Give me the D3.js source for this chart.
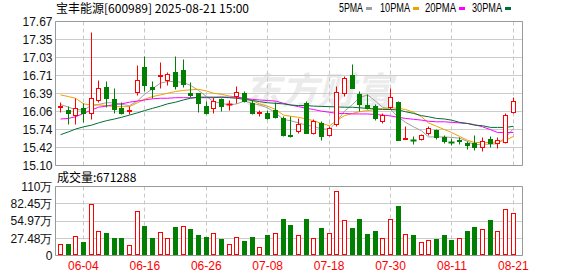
<!DOCTYPE html>
<html>
<head>
<meta charset="utf-8">
<script src="https://cdn.jsdelivr.net/npm/d3@7"></script>
<style>
  body { margin: 0; background: #fff; }
  svg { display: block; }
  text { font-family: "Liberation Sans", Arial, sans-serif; }
  .cjk { font-family: "Noto Sans CJK SC", sans-serif; }
</style>
</head>
<body>
<div id="chart"></div>
<script>
// trading days shown (MM-DD)
const dates = ["05-29","05-30","06-03","06-04","06-05","06-06","06-09","06-10","06-11","06-12",
  "06-13","06-16","06-17","06-18","06-19","06-20","06-23","06-24","06-25","06-26",
  "06-27","06-30","07-01","07-02","07-03","07-04","07-07","07-08","07-09","07-10",
  "07-11","07-14","07-15","07-16","07-17","07-18","07-21","07-22","07-23","07-24",
  "07-25","07-28","07-29","07-30","07-31","08-01","08-04","08-05","08-06","08-07",
  "08-08","08-11","08-12","08-13","08-14","08-15","08-18","08-19","08-20","08-21"];

const opens = [16.13,16.08,16.00,16.12,16.02,16.26,16.49,16.27,16.11,16.07,
  16.40,16.85,16.49,16.69,16.62,16.76,16.79,16.38,16.38,16.15,
  16.115,16.27,16.18,16.33,16.39,16.20,16.03,16.03,16.09,15.94,
  15.64,15.70,16.20,15.68,15.85,15.64,15.83,16.39,16.70,16.36,
  16.17,16.145,15.89,16.13,16.23,15.57,15.555,15.57,15.67,15.73,
  15.60,15.515,15.54,15.50,15.495,15.42,15.565,15.49,15.51,16.04];
const highs = [16.23,16.145,16.29,16.20,17.47,16.61,16.60,16.47,16.22,16.15,
  16.88,17.04,16.60,16.94,16.76,17.04,16.99,16.59,16.39,16.245,
  16.32,16.30,16.26,16.51,16.42,16.26,16.08,16.08,16.23,15.98,
  15.98,15.94,16.245,15.92,15.89,15.80,16.505,16.68,16.895,16.42,
  16.36,16.19,16.02,16.47,16.24,15.80,15.625,15.65,15.80,15.74,
  15.63,15.58,15.60,15.535,15.64,15.595,15.61,15.595,16.02,16.315];
const lows = [16.04,15.84,15.83,15.86,15.92,16.23,16.13,16.02,16.01,16.01,
  16.35,16.42,16.30,16.47,16.52,16.45,16.50,16.32,16.04,16.01,
  16.02,16.07,16.08,16.20,16.22,16.01,15.98,15.92,15.93,15.62,
  15.60,15.67,15.67,15.655,15.55,15.61,15.80,16.33,16.47,16.06,
  16.10,15.91,15.85,16.10,15.54,15.56,15.47,15.55,15.63,15.56,
  15.49,15.45,15.48,15.39,15.37,15.35,15.42,15.40,15.49,16.03];
const closes = [16.16,16.02,16.11,16.02,16.29,16.47,16.29,16.10,16.02,16.09,
  16.62,16.53,16.46,16.70,16.72,16.51,16.55,16.35,16.20,16.02,
  16.25,16.16,16.19,16.40,16.245,16.03,16.04,15.94,15.95,15.63,
  15.62,15.84,15.68,15.89,15.625,15.76,16.41,16.66,16.48,16.19,
  16.11,15.93,15.99,16.305,15.55,15.58,15.545,15.63,15.76,15.60,
  15.525,15.51,15.53,15.46,15.42,15.535,15.49,15.55,15.99,16.25];

// volume in 万
const volumes = [17.0,17.5,29.8,20.7,81.3,37.7,35.1,27.1,27.1,15.4,
  69.6,46.2,27.1,36.7,26.6,44.6,46.2,42.0,31.9,28.7,
  35.1,25.5,17.5,28.2,22.3,28.7,12.2,31.9,35.1,57.4,
  47.8,31.9,57.4,26.6,43.0,35.1,101.5,55.8,43.0,57.4,
  33.5,38.3,26.6,56.9,78.1,32.9,31.4,20.2,24.4,25.0,
  31.4,23.9,26.6,38.3,44.6,41.0,55.8,38.3,72.8,67.1288];

const ma5 = [16.19,16.14,16.10,16.09,16.17,16.19,16.22,16.22,16.19,16.17,
  16.25,16.37,16.47,16.57,16.60,16.60,16.58,16.53,16.44,16.33,
  16.24,16.21,16.18,16.20,16.25,16.21,16.18,16.13,16.04,15.92,
  15.90,15.86,15.82,15.80,15.75,15.75,15.88,16.07,16.19,16.31,
  16.36,16.25,16.14,16.10,15.96,15.87,15.79,15.72,15.61,15.61,
  15.61,15.60,15.59,15.53,15.47,15.48,15.48,15.49,15.60,15.76];
const ma10 = [16.36,16.33,16.30,16.20,16.18,16.18,16.17,16.15,16.15,16.15,
  16.22,16.28,16.33,16.36,16.39,16.42,16.44,16.45,16.46,16.43,
  16.39,16.37,16.34,16.32,16.30,16.26,16.20,16.16,16.10,16.00,
  15.98,15.96,15.93,15.90,15.85,15.81,15.90,15.99,16.03,16.06,
  16.08,16.10,16.12,16.13,16.12,16.10,16.05,15.97,15.86,15.80,
  15.74,15.69,15.62,15.55,15.51,15.51,15.51,15.52,15.55,15.62];
const ma20 = [15.93,15.94,15.97,16.03,16.09,16.14,16.16,16.19,16.20,16.23,
  16.25,16.27,16.29,16.30,16.30,16.31,16.31,16.31,16.31,16.31,
  16.31,16.32,16.32,16.32,16.30,16.28,16.27,16.26,16.25,16.21,
  16.18,16.15,16.12,16.10,16.07,16.05,16.03,16.03,16.02,16.02,
  16.02,16.01,16.00,15.985,15.96,15.94,15.925,15.91,15.89,15.88,
  15.88,15.87,15.86,15.85,15.83,15.79,15.74,15.69,15.69,15.69];
const ma30 = [15.65,15.70,15.75,15.79,15.82,15.86,15.90,15.93,15.96,16.00,
  16.04,16.08,16.12,16.16,16.20,16.23,16.27,16.30,16.32,16.32,
  16.32,16.32,16.31,16.30,16.28,16.26,16.24,16.22,16.21,16.20,
  16.18,16.17,16.17,16.16,16.155,16.15,16.145,16.14,16.14,16.13,
  16.12,16.11,16.10,16.10,16.09,16.06,16.03,15.99,15.97,15.94,
  15.93,15.91,15.87,15.85,15.82,15.81,15.78,15.78,15.78,15.80];

const priceTicks = [17.67,17.35,17.03,16.71,16.39,16.06,15.74,15.42,15.10];
const volTicks = [0,27.48,54.97,82.45,110];
const volTickLabels = ["0","27.48万","54.97万","82.45万","110万"];
const dateTicks = ["06-04","06-16","06-26","07-08","07-18","07-30","08-11","08-21"];

const maNames = ["5PMA","10PMA","20PMA","30PMA"];
const maColors = ["#a0a0a0","#f0a000","#ff00ff","#006f35"];

const title = "宝丰能源[600989] 2025-08-21 15:00";
const volTitle = "成交量:671288";

const W = 578, H = 276;
const left = 55.5, right = 522.5;
const pTop = 21.5, pBot = 165.5;
const vTop = 186.5, vBot = 255.5;
const RED = "#ff0000", GREEN = "#007f00";

const svg = d3.select("#chart").append("svg")
  .attr("width", W).attr("height", H);

const x = d3.scaleBand().domain(dates).range([56.5, 56.5 + dates.length * 7.678]);
const cx = d => Math.round(x(d) + x.bandwidth() / 2 - 0.5) + 0.5;
const y = d3.scaleLinear().domain([15.10, 17.67]).range([pBot, pTop]);
const yv = d3.scaleLinear().domain([0, 110]).range([vBot, vTop]);
const snap = v => Math.round(v - 0.5) + 0.5;

const rows = dates.map((d, i) => ({
  date: d, open: opens[i], high: highs[i], low: lows[i], close: closes[i],
  vol: volumes[i], up: i === 0 ? closes[i] >= opens[i] : closes[i] >= closes[i - 1]
}));

// watermark
svg.append("text").attr("class", "cjk")
  .attr("x", 244).attr("y", 104)
  .attr("font-size", 37).attr("font-weight", "bold")
  .attr("fill", "#ebebeb").attr("font-style", "italic")
  .text("东方财富");

// grids
function panelGrid(top, bot, scale, ticks) {
  svg.append("g").selectAll("line").data(ticks).enter().append("line")
    .attr("x1", left).attr("x2", right)
    .attr("y1", d => snap(scale(d))).attr("y2", d => snap(scale(d)))
    .attr("stroke", "#cccccc");
  svg.append("g").selectAll("line").data(dateTicks).enter().append("line")
    .attr("x1", d => cx(d)).attr("x2", d => cx(d))
    .attr("y1", top).attr("y2", bot)
    .attr("stroke", "#c8c8c8").attr("stroke-dasharray", "4,3");
  svg.append("path")
    .attr("d", `M${left},${bot}V${top}H${right}V${bot}H${left}`)
    .attr("fill", "none").attr("stroke", "#999");
}
panelGrid(pTop, pBot, y, priceTicks);
panelGrid(vTop, vBot, yv, volTicks);

// y axes labels
svg.append("g")
  .attr("transform", `translate(${left},0)`)
  .call(d3.axisLeft(y).tickValues(priceTicks).tickSize(0).tickPadding(3)
    .tickFormat(d3.format(".2f")))
  .call(g => g.select(".domain").remove())
  .selectAll("text").attr("font-size", 12).attr("fill", "#111")
  .attr("font-family", "Liberation Sans, Arial, sans-serif");

svg.append("g")
  .attr("transform", `translate(${left},0)`)
  .call(d3.axisLeft(yv).tickValues(volTicks).tickSize(0).tickPadding(3)
    .tickFormat((d, i) => volTickLabels[i]))
  .call(g => g.select(".domain").remove())
  .selectAll("text").attr("font-size", 12).attr("fill", "#111")
  .attr("font-family", "Liberation Sans, Arial, 'Noto Sans CJK SC', sans-serif");

// x axis labels
svg.append("g")
  .attr("transform", `translate(0,${vBot + 2})`)
  .call(d3.axisBottom(x).tickValues(dateTicks).tickSize(0).tickPadding(4))
  .call(g => g.select(".domain").remove())
  .selectAll("text").attr("font-size", 12).attr("fill", RED)
  .attr("font-family", "Liberation Sans, Arial, sans-serif");

// moving averages
const maData = [ma5, ma10, ma20, ma30];
const line = d3.line().x((d, i) => cx(dates[i])).y(d => y(d));
svg.append("g").selectAll("path").data(maData).enter().append("path")
  .attr("d", line)
  .attr("fill", "none")
  .attr("stroke", (d, i) => maColors[i])
  .attr("stroke-width", 1);

// candles
const candles = svg.append("g").selectAll("g").data(rows).enter().append("g");
candles.append("line")
  .attr("x1", d => cx(d.date)).attr("x2", d => cx(d.date))
  .attr("y1", d => snap(y(d.high))).attr("y2", d => snap(y(d.low)))
  .attr("stroke", d => d.close >= d.open ? RED : GREEN);
candles.each(function(d) {
  const g = d3.select(this);
  const xc = cx(d.date);
  const t = snap(y(Math.max(d.open, d.close)));
  const b = snap(y(Math.min(d.open, d.close)));
  const col = d.close >= d.open ? RED : GREEN;
  if (b - t < 1) {
    g.append("line").attr("x1", xc - 3).attr("x2", xc + 3)
      .attr("y1", t).attr("y2", t).attr("stroke", col).attr("stroke-width", 2);
  } else if (d.close >= d.open) {
    g.append("rect").attr("x", xc - 2).attr("y", t).attr("width", 4).attr("height", b - t)
      .attr("fill", "#fff").attr("stroke", RED);
  } else {
    g.append("rect").attr("x", xc - 2.5).attr("y", t - 0.5).attr("width", 5).attr("height", b - t + 1)
      .attr("fill", GREEN);
  }
});

// volume bars
svg.append("g").selectAll("rect").data(rows).enter().append("rect")
  .attr("x", d => d.up ? cx(d.date) - 2 : cx(d.date) - 2.5)
  .attr("y", d => d.up ? snap(yv(d.vol)) : snap(yv(d.vol)) - 0.5)
  .attr("width", d => d.up ? 4 : 5)
  .attr("height", d => d.up ? vBot - snap(yv(d.vol)) - 1 : vBot - snap(yv(d.vol)))
  .attr("fill", d => d.up ? "#fff" : GREEN)
  .attr("stroke", d => d.up ? RED : "none");

// titles
svg.append("text").attr("class", "cjk").attr("x", 56).attr("y", 13)
  .attr("font-size", 12).attr("fill", "#000").text(title);
svg.append("text").attr("class", "cjk").attr("x", 57).attr("y", 182)
  .attr("font-size", 12).attr("fill", "#000").text(volTitle);

// legend
const legendX = [339, 380, 425, 472];
const legendW = [24, 30, 31, 30];
const lg = svg.append("g").selectAll("g").data(maNames).enter().append("g");
lg.append("text")
  .attr("x", (d, i) => legendX[i]).attr("y", 12)
  .attr("font-size", 12).attr("fill", "#000")
  .attr("textLength", (d, i) => legendW[i]).attr("lengthAdjust", "spacingAndGlyphs")
  .attr("font-family", "Liberation Serif, serif")
  .text(d => d);
lg.append("rect")
  .attr("x", (d, i) => legendX[i] + legendW[i] + 3).attr("y", 7)
  .attr("width", 6).attr("height", 3)
  .attr("fill", (d, i) => maColors[i]);
</script>
</body>
</html>
